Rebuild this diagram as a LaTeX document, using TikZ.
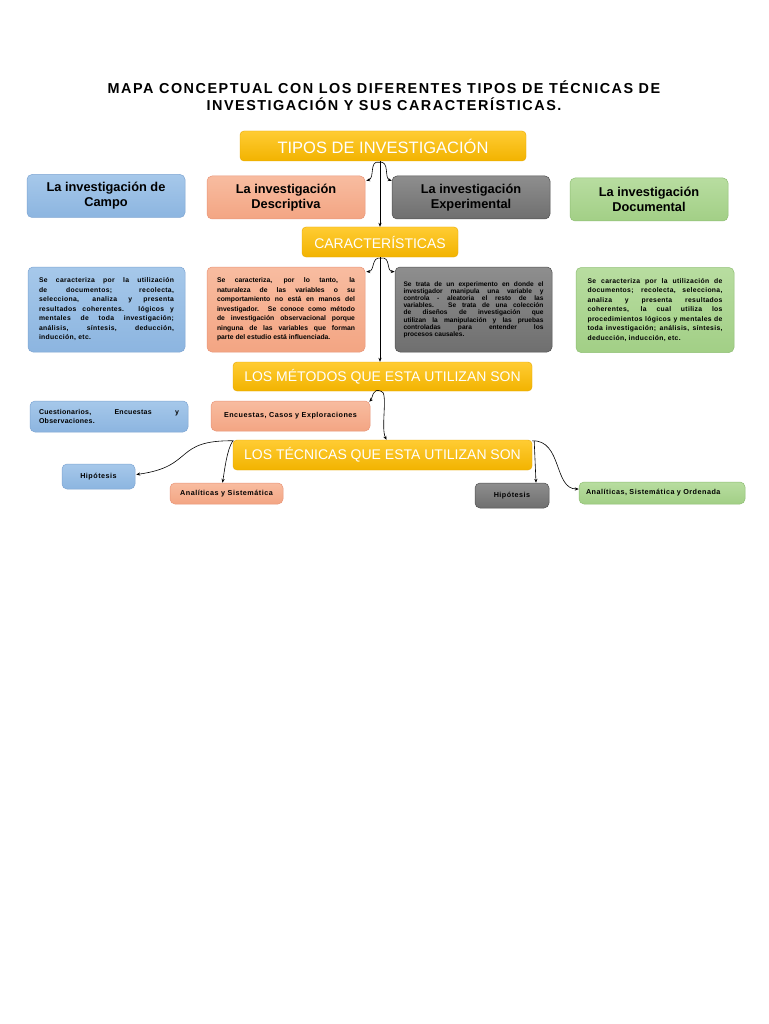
\documentclass[tikz,border=0pt]{standalone}
\usepackage{fontspec}
\setmainfont{Liberation Sans}
\usetikzlibrary{arrows.meta,calc}
\definecolor{yT}{HTML}{FFCC33}
\definecolor{yB}{HTML}{F2B300}
\definecolor{yD}{HTML}{E8A800}
\definecolor{bT}{HTML}{A6C8EA}
\definecolor{bB}{HTML}{8CB5E0}
\definecolor{bD}{HTML}{7FA6D3}
\definecolor{sT}{HTML}{F8BCA0}
\definecolor{sB}{HTML}{F3A583}
\definecolor{sD}{HTML}{E9967A}
\definecolor{gT}{HTML}{8E8E8E}
\definecolor{gB}{HTML}{6F6F6F}
\definecolor{gD}{HTML}{505050}
\definecolor{vT}{HTML}{B8DDA0}
\definecolor{vB}{HTML}{A2CF86}
\definecolor{vD}{HTML}{8FBF74}
\tikzset{
  ybox/.style={rounded corners=4pt, top color=yT, bottom color=yB, draw=yD, line width=0.4pt,
    text=white, font=\fontsize{14}{16}\selectfont, inner sep=0pt, align=center},
  bbox/.style={rounded corners=5pt, top color=bT, bottom color=bB, draw=bD, line width=0.5pt, inner sep=0pt},
  sbox/.style={rounded corners=5pt, top color=sT, bottom color=sB, draw=sD, line width=0.5pt, inner sep=0pt},
  gbox/.style={rounded corners=5pt, top color=gT, bottom color=gB, draw=gD, line width=0.5pt, inner sep=0pt},
  vbox/.style={rounded corners=5pt, top color=vT, bottom color=vB, draw=vD, line width=0.5pt, inner sep=0pt},
  head/.style={font=\bfseries\fontsize{12.8}{15}\selectfont, align=center, minimum width=158pt, minimum height=43pt},
  desc/.style={font=\bfseries\fontsize{6.8}{9.5}\selectfont, align=justify, minimum height=85pt},
  wdesc/.style={font=\bfseries\fontsize{6.8}{9.5}\selectfont\addfontfeature{LetterSpace=5}},
  small/.style={font=\bfseries\fontsize{7.2}{8}\selectfont\addfontfeature{LetterSpace=7}, align=center},
  arr/.style={-{Stealth[length=4pt,width=3.2pt]}, line width=0.6pt, black},
}
\begin{document}
\begin{tikzpicture}[x=1pt,y=-1pt]
\useasboundingbox[fill=white] (0,0) rectangle (768,1024);

\node[font=\bfseries\fontsize{14.4}{17}\selectfont\addfontfeature{LetterSpace=10.5}, align=center] (title) at (384,96)
  {MAPA CONCEPTUAL CON LOS DIFERENTES TIPOS DE TÉCNICAS DE\\INVESTIGACIÓN Y SUS CARACTERÍSTICAS.};

\node[ybox, minimum width=286pt, minimum height=30pt, font=\fontsize{16.5}{18}\selectfont] (tipos) at (383,146) {TIPOS DE INVESTIGACIÓN};

\node[bbox, head] (campo) at (106,196) {La investigación de\\Campo};
\node[sbox, head] (descr) at (286,197.5) {La investigación\\Descriptiva};
\node[gbox, head] (exper) at (471,197.5) {La investigación\\Experimental};
\node[vbox, head] (docum) at (649,199.5) {La investigación\\Documental};

\node[ybox, minimum width=156pt, minimum height=30pt] (carac) at (380,242) {CARACTERÍSTICAS};

\node[bbox, desc, wdesc, text width=135pt, inner xsep=11pt] (campoD) at (106.5,309.5)
 {Se caracteriza por la utilización\linebreak de documentos; recolecta,\linebreak selecciona, analiza y presenta\linebreak resultados coherentes. lógicos y\linebreak mentales de toda investigación;\linebreak análisis, síntesis, deducción,\linebreak inducción, etc.};
\node[sbox, desc, text width=138pt, inner xsep=10pt] (descrD) at (286,309.5)
 {Se caracteriza, por lo tanto, la\linebreak naturaleza de las variables o su\linebreak comportamiento no está en manos del\linebreak investigador. Se conoce como método\linebreak de investigación observacional porque\linebreak ninguna de las variables que forman\linebreak parte del estudio está influenciada.};
\node[gbox, desc, text width=140pt, inner xsep=8.5pt, font=\bfseries\fontsize{6.6}{7.2}\selectfont] (experD) at (473.5,309.5)
 {Se trata de un experimento en donde el\linebreak investigador manipula una variable y\linebreak controla - aleatoria el resto de las\linebreak variables. Se trata de una colección\linebreak de diseños de investigación que\linebreak utilizan la manipulación y las pruebas\linebreak controladas para entender los\linebreak procesos causales.\par\vspace*{8pt}};
\node[vbox, desc, wdesc, text width=135pt, inner xsep=11.5pt] (documD) at (655,310)
 {Se caracteriza por la utilización de\linebreak documentos; recolecta, selecciona,\linebreak analiza y presenta resultados\linebreak coherentes, la cual utiliza los\linebreak procedimientos lógicos y mentales de\linebreak toda investigación; análisis, síntesis,\linebreak deducción, inducción, etc.};

\node[ybox, minimum width=299pt, minimum height=29pt] (metodos) at (382.5,376.5) {LOS MÉTODOS QUE ESTA UTILIZAN SON};

\node[bbox, font=\bfseries\fontsize{7}{8.5}\selectfont\addfontfeature{LetterSpace=4}, align=justify, text width=140pt, inner xsep=9pt, minimum height=31pt] (cuest) at (109,416.5)
 {Cuestionarios,\hfill Encuestas\hfill y\linebreak Observaciones.};
\node[sbox, small, minimum width=159pt, minimum height=30pt] (encu) at (290.5,416) {Encuestas, Casos y Exploraciones};

\node[ybox, minimum width=299pt, minimum height=30pt] (tecnicas) at (382.5,455) {LOS TÉCNICAS QUE ESTA UTILIZAN SON};

\node[bbox, small, minimum width=73pt, minimum height=25pt] (hip1) at (98.5,476.5) {Hipótesis};
\node[sbox, small, minimum width=113pt, minimum height=21pt] (anal1) at (226.5,493.5) {Analíticas y Sistemática};
\node[gbox, small, minimum width=74pt, minimum height=25pt] (hip2) at (512,495.5) {Hipótesis};
\node[vbox, small, minimum width=166pt, minimum height=22pt, text width=152pt, align=left] (anal2) at (662,493) {Analíticas, Sistemática y Ordenada};

% connectors
\draw[arr] (tipos.south -| carac.north) -- (carac.north);
\draw[arr] ($(tipos.south)+(-4,1)$) .. controls ($(tipos.south)+(-14,-1)$) and ($(tipos.south)+(-8,17)$) .. ($(descr.north east)+(1,5)$);
\draw[arr] ($(tipos.south)+(-4,1)$) .. controls ($(tipos.south)+(7,-1)$) and ($(tipos.south)+(1,17)$) .. ($(exper.north west)+(0,5)$);

\draw[arr] (carac.south) -- (carac.south |- metodos.north);
\draw[arr] ($(carac.south)+(1,1)$) .. controls ($(carac.south)+(-9,-1)$) and ($(carac.south)+(-5,14)$) .. ($(descrD.north east)+(1,5)$);
\draw[arr] ($(carac.south)+(1,1)$) .. controls ($(carac.south)+(11,-1)$) and ($(carac.south)+(6,14)$) .. ($(experD.north west)+(0,5)$);

\draw[arr] ($(metodos.south)+(-1.5,0)$) .. controls ($(metodos.south)+(-10,-4)$) and ($(metodos.south)+(-10,7)$) .. ($(encu.north east)+(-1,1)$);
\draw[arr] ($(metodos.south)+(-1.5,0)$) .. controls ($(metodos.south)+(6,0)$) and ($(tecnicas.north)+(-2,-12)$) .. ($(tecnicas.north)+(4,0)$);

\draw[arr] ($(tecnicas.north west)+(1,1)$) .. controls ($(tecnicas.north west)+(-60,0)$) and ($(hip1.east)+(60,-10)$) .. ($(hip1.east)+(1,-2)$);
\draw[arr] ($(tecnicas.north west)+(0,1)$) .. controls ($(tecnicas.north west)+(-6,10)$) and ($(anal1.north)+(-2,-12)$) .. ($(anal1.north)+(-4,0)$);

\draw[arr] ($(tecnicas.north east)+(2,1)$) -- ($(hip2.north)+(24,0)$);
\draw[arr] ($(tecnicas.north east)+(0,1)$) .. controls ($(tecnicas.north east)+(30,0)$) and ($(anal2.west)+(-25,-4)$) .. ($(anal2.west)+(0,-4)$);
\end{tikzpicture}
\end{document}
